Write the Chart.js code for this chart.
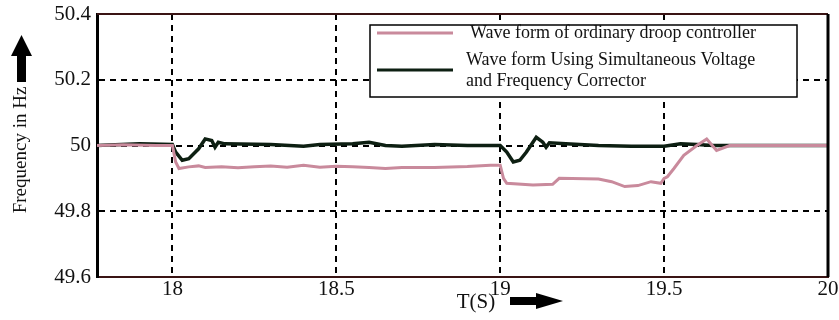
<!DOCTYPE html>
<html>
<head>
<meta charset="utf-8">
<script src="https://cdn.jsdelivr.net/npm/chart.js@4.4.1/dist/chart.umd.min.js"></script>
<style>
  html, body { margin: 0; padding: 0; background: #fff; }
  #wrap { width: 839px; height: 320px; position: relative; }
</style>
</head>
<body>
<div id="wrap"><canvas id="out"></canvas></div>
<script>
// values
const droopTime = [17.77, 17.85, 17.95, 18.0, 18.01, 18.02, 18.05, 18.08, 18.1, 18.15, 18.2, 18.25, 18.3, 18.35, 18.4, 18.45, 18.5, 18.55, 18.6, 18.65, 18.7, 18.8, 18.9, 18.97, 19.0, 19.01, 19.02, 19.1, 19.16, 19.18, 19.3, 19.34, 19.38, 19.42, 19.46, 19.49, 19.5, 19.51, 19.53, 19.56, 19.6, 19.63, 19.66, 19.7, 19.8, 20.0];
const droopFreq = [50.0, 50.002, 50.0, 50.0, 49.95, 49.93, 49.935, 49.938, 49.933, 49.935, 49.932, 49.935, 49.938, 49.934, 49.94, 49.934, 49.937, 49.935, 49.933, 49.93, 49.933, 49.933, 49.936, 49.94, 49.94, 49.9, 49.885, 49.88, 49.882, 49.9, 49.898, 49.89, 49.875, 49.878, 49.89, 49.885, 49.9, 49.905, 49.93, 49.97, 50.0, 50.02, 49.985, 50.0, 50.0, 50.0];

const corrTime = [17.77, 17.9, 18.0, 18.01, 18.03, 18.05, 18.08, 18.1, 18.12, 18.13, 18.14, 18.16, 18.3, 18.4, 18.45, 18.55, 18.6, 18.65, 18.7, 18.8, 18.9, 19.0, 19.02, 19.04, 19.06, 19.08, 19.11, 19.13, 19.14, 19.15, 19.2, 19.3, 19.4, 19.5, 19.55, 19.6, 19.65, 20.0];
const corrFreq = [50.0, 50.005, 50.003, 49.98, 49.955, 49.96, 49.99, 50.02, 50.015, 49.995, 50.01, 50.005, 50.003, 49.998, 50.003, 50.005, 50.01, 50.0, 49.998, 50.003, 50.0, 50.0, 49.98, 49.95, 49.955, 49.98, 50.025, 50.01, 49.995, 50.008, 50.005, 50.0, 49.998, 49.998, 50.005, 50.003, 50.0, 50.0];

const xTicks = [18, 18.5, 19, 19.5, 20];
const yTicks = [49.6, 49.8, 50, 50.2, 50.4];
const seriesNames = ["Wave form of ordinary droop controller", ["Wave form Using Simultaneous Voltage", "and Frequency Corrector"]];
const pink = "#c98a9c";
const dark = "#0d1f12";
const serif = "'Liberation Serif', 'DejaVu Serif', serif";

const toPoints = (xs, ys) => xs.map((x, i) => ({ x: x, y: ys[i] }));

// borders, legend box and axis titles with arrows
const decorations = {
  id: "decorations",
  afterDraw(chart) {
    const ctx = chart.ctx;
    const a = chart.chartArea;
    ctx.save();
    // frame
    ctx.strokeStyle = "#3a1414";
    ctx.lineWidth = 2;
    ctx.beginPath();
    ctx.moveTo(a.left, a.top); ctx.lineTo(a.right, a.top);
    ctx.stroke();
    ctx.strokeStyle = "#000";
    ctx.lineWidth = 3;
    ctx.beginPath();
    ctx.moveTo(a.right, a.top); ctx.lineTo(a.right, a.bottom);
    ctx.stroke();

    // legend
    const lx = 370, ly = 25, lw = 427, lh = 72;
    ctx.fillStyle = "#fff";
    ctx.fillRect(lx, ly, lw, lh);
    ctx.strokeStyle = "#000";
    ctx.lineWidth = 1.5;
    ctx.strokeRect(lx, ly, lw, lh);
    const ds = chart.data.datasets;
    const rows = [33, 70];
    ctx.font = "18px " + serif;
    ctx.textBaseline = "middle";
    ctx.textAlign = "left";
    ds.forEach((d, i) => {
      ctx.strokeStyle = d.borderColor;
      ctx.lineWidth = 3;
      ctx.beginPath();
      ctx.moveTo(377, rows[i]); ctx.lineTo(453, rows[i]);
      ctx.stroke();
      ctx.fillStyle = "#111";
      const lines = Array.isArray(d.label) ? d.label : [d.label];
      if (lines.length === 1) {
        ctx.fillText(lines[0], 470, rows[i]);
      } else {
        ctx.fillText(lines[0], 466, rows[i] - 10);
        ctx.fillText(lines[1], 466, rows[i] + 11);
      }
    });

    // y title + up arrow
    ctx.fillStyle = "#111";
    ctx.save();
    ctx.translate(21, 150);
    ctx.rotate(-Math.PI / 2);
    ctx.font = "19px " + serif;
    ctx.textAlign = "center";
    ctx.textBaseline = "middle";
    ctx.fillText("Frequency in Hz", 0, 0);
    ctx.restore();
    ctx.fillStyle = "#000";
    ctx.fillRect(17, 55, 9, 27);
    ctx.beginPath();
    ctx.moveTo(21.5, 35); ctx.lineTo(32, 56); ctx.lineTo(11, 56);
    ctx.closePath();
    ctx.fill();

    // x title + right arrow
    ctx.fillStyle = "#111";
    ctx.font = "21px " + serif;
    ctx.textAlign = "center";
    ctx.textBaseline = "middle";
    ctx.fillText("T(S)", 476, 302);
    ctx.fillStyle = "#000";
    ctx.fillRect(510, 297, 27, 8);
    ctx.beginPath();
    ctx.moveTo(563, 301); ctx.lineTo(536, 293); ctx.lineTo(536, 309);
    ctx.closePath();
    ctx.fill();
    ctx.restore();
  }
};

const inner = (v, lo, hi) => Math.abs(v - lo) > 1e-6 && Math.abs(v - hi) > 1e-6;

new Chart(document.getElementById("out").getContext("2d"), {
  type: "line",
  data: {
    datasets: [
      {
        label: seriesNames[0],
        data: toPoints(droopTime, droopFreq),
        borderColor: pink,
        borderWidth: 3,
        pointRadius: 0,
        tension: 0,
        order: 0
      },
      {
        label: seriesNames[1],
        data: toPoints(corrTime, corrFreq),
        borderColor: dark,
        borderWidth: 3.5,
        pointRadius: 0,
        tension: 0,
        order: 1
      }
    ]
  },
  options: {
    responsive: true,
    maintainAspectRatio: false,
    animation: false,
    layout: { padding: { left: 0, right: 11, top: 14, bottom: 0 } },
    plugins: {
      legend: { display: false },
      tooltip: { enabled: false }
    },
    scales: {
      x: {
        type: "linear",
        min: 17.77,
        max: 20,
        afterBuildTicks: s => { s.ticks = xTicks.map(v => ({ value: v })); },
        afterFit: s => { s.height = 43; s.paddingLeft = 0; s.paddingRight = 0; },
        ticks: {
          color: "#111",
          font: { family: serif, size: 21 },
          padding: 0,
          maxRotation: 0,
          autoSkip: false,
          callback: v => String(v)
        },
        grid: {
          drawTicks: false,
          color: c => inner(c.tick.value, 17.77, 20) ? "#000" : "rgba(0,0,0,0)",
          lineWidth: 2
        },
        border: { display: true, color: "#3a1414", width: 2, dash: [6, 5] }
      },
      y: {
        min: 49.6,
        max: 50.4,
        afterBuildTicks: s => { s.ticks = yTicks.map(v => ({ value: v })); },
        afterFit: s => { s.width = 97; s.paddingTop = 0; s.paddingBottom = 0; },
        ticks: {
          color: "#111",
          font: { family: serif, size: 21 },
          padding: 6,
          callback: v => String(Math.round(v * 10) / 10)
        },
        grid: {
          drawTicks: false,
          color: c => inner(c.tick.value, 49.6, 50.4) ? "#000" : "rgba(0,0,0,0)",
          lineWidth: 2
        },
        border: { display: true, color: "#000", width: 3, dash: [6, 5] }
      }
    }
  },
  plugins: [decorations]
});
</script>
</body>
</html>
